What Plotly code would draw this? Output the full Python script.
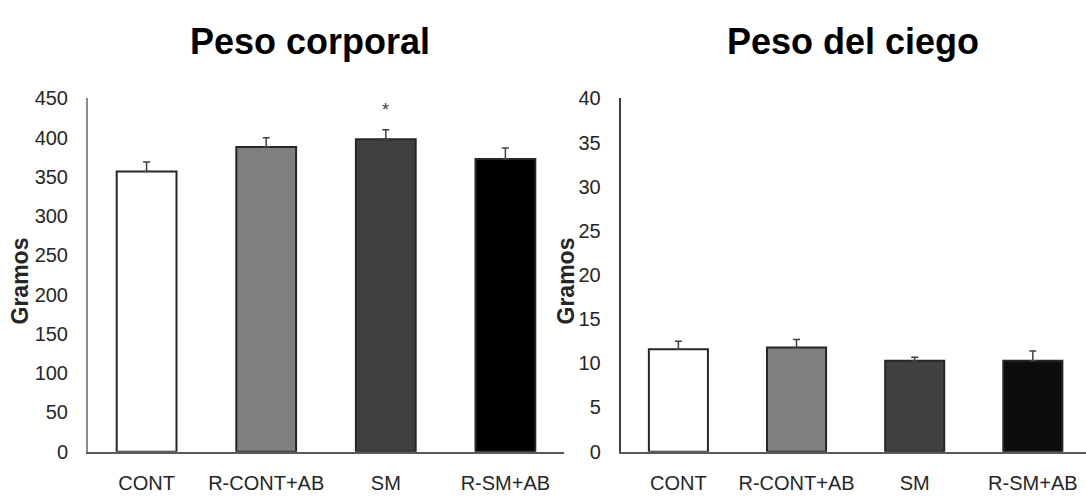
import plotly.graph_objects as go

W, H = 1086, 498

categories = ["CONT", "R-CONT+AB", "SM", "R-SM+AB"]
peso_corporal = [357, 388, 398, 373]
peso_corporal_err = [12, 12, 12, 14]
peso_ciego = [11.6, 11.8, 10.3, 10.3]
peso_ciego_err = [0.9, 0.9, 0.4, 1.1]
colors_left = ["#ffffff", "#7f7f7f", "#404040", "#000000"]
colors_right = ["#ffffff", "#7f7f7f", "#404040", "#0d0d0d"]
titles = ["Peso corporal", "Peso del ciego"]
y_title = "Gramos"
left_ticks = list(range(0, 451, 50))
right_ticks = list(range(0, 41, 5))

FONT = "Liberation Sans, Arial, sans-serif"

fig = go.Figure()
fig.add_trace(go.Bar(
    x=categories, y=peso_corporal, width=0.5,
    marker=dict(color=colors_left, line=dict(color="#262626", width=2)),
    error_y=dict(type="data", array=peso_corporal_err, arrayminus=[0]*4, symmetric=False,
                 color="#404040", thickness=1.5, width=3.5),
    xaxis="x", yaxis="y", showlegend=False,
))
fig.add_trace(go.Bar(
    x=categories, y=peso_ciego, width=0.5,
    marker=dict(color=colors_right, line=dict(color="#262626", width=2)),
    error_y=dict(type="data", array=peso_ciego_err, arrayminus=[0]*4, symmetric=False,
                 color="#404040", thickness=1.5, width=3.5),
    xaxis="x2", yaxis="y2", showlegend=False,
))

ytop = 1 - 91.5 / H
ybot = 1 - 461 / H
tickfont = dict(family=FONT, size=20, color="#262626")

fig.update_layout(
    width=W, height=H,
    margin=dict(l=0, r=0, t=0, b=0),
    paper_bgcolor="white", plot_bgcolor="white",
    xaxis=dict(domain=[88 / W, 564 / W], range=[-0.49, 3.49], type="category",
               showline=True, linecolor="#595959", linewidth=2, showgrid=False,
               ticks="", tickfont=tickfont, ticklabelstandoff=12, anchor="y"),
    yaxis=dict(domain=[ybot, ytop], range=[0, 450], tickvals=left_ticks,
               showline=True, linecolor="#8c8c8c", linewidth=2, showgrid=False,
               zeroline=False, ticks="", tickfont=tickfont, ticklabelstandoff=14, anchor="x"),
    xaxis2=dict(domain=[620.5 / W, 1.0], range=[-0.49, 3.45], type="category",
                showline=True, linecolor="#595959", linewidth=2, showgrid=False,
                ticks="", tickfont=tickfont, ticklabelstandoff=12, anchor="y2"),
    yaxis2=dict(domain=[ybot, ytop], range=[0, 40], tickvals=right_ticks,
                showline=True, linecolor="#404040", linewidth=1.5, showgrid=False,
                zeroline=False, ticks="", tickfont=tickfont, ticklabelstandoff=14, anchor="x2"),
    bargap=0.5,
)

annotations = [
    dict(text="<b>%s</b>" % titles[0], x=310 / W, y=1 - 32 / H, xref="paper", yref="paper",
         showarrow=False, font=dict(family=FONT, size=36, color="#000000"),
         xanchor="center", yanchor="middle"),
    dict(text="<b>%s</b>" % titles[1], x=852.5 / W, y=1 - 32 / H, xref="paper", yref="paper",
         showarrow=False, font=dict(family=FONT, size=36, color="#000000"),
         xanchor="center", yanchor="middle"),
    dict(text="<b>%s</b>" % y_title, x=20 / W, y=1 - 283 / H, xref="paper", yref="paper",
         showarrow=False, textangle=-90, font=dict(family=FONT, size=23, color="#262626"),
         xanchor="center", yanchor="middle"),
    dict(text="<b>%s</b>" % y_title, x=566 / W, y=1 - 283 / H, xref="paper", yref="paper",
         showarrow=False, textangle=-90, font=dict(family=FONT, size=23, color="#262626"),
         xanchor="center", yanchor="middle"),
    dict(text="*", x=categories[2], y=peso_corporal[2] + peso_corporal_err[2], xref="x", yref="y",
         showarrow=False, yshift=20, font=dict(family=FONT, size=18, color="#404040"),
         yanchor="middle"),
]
fig.update_layout(annotations=annotations)

fig.write_html("out.html")
